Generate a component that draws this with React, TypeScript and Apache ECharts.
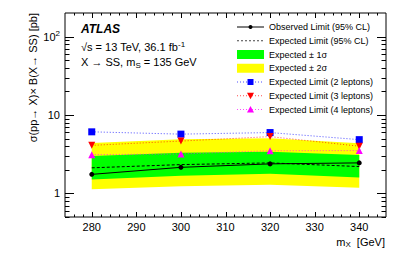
import React, { useEffect, useRef } from "react";
import * as echarts from "echarts";

const massPoints = [280, 300, 320, 340];
const observedLimit = [1.75, 2.15, 2.38, 2.45];
const expectedLimit = [2.12, 2.33, 2.45, 2.2];
const expected1SigmaUp = [3.0, 3.3, 3.4, 3.1];
const expected1SigmaDown = [1.5, 1.68, 1.78, 1.6];
const expected2SigmaUp = [4.4, 4.9, 5.05, 4.35];
const expected2SigmaDown = [1.13, 1.23, 1.29, 1.18];
const limit2Leptons = [6.1, 5.7, 5.97, 4.85];
const limit3Leptons = [4.1, 4.65, 5.3, 4.0];
const limit4Leptons = [3.12, 3.18, 3.5, 3.52];

const xMajorTicks = [280, 290, 300, 310, 320, 330, 340];
const yMajorTicks = [1, 10, 100];
const legendLabels = [
  "Observed Limit (95% CL)",
  "Expected Limit (95% CL)",
  "Expected \u00b1 1\u03c3",
  "Expected \u00b1 2\u03c3",
  "Expected Limit (2 leptons)",
  "Expected Limit (3 leptons)",
  "Expected Limit (4 leptons)",
];

const FONT = '"Liberation Sans", Arial, Helvetica, sans-serif';
const GREEN = "#00ff00";
const YELLOW = "#ffff00";
const BLUE = "#0000ff";
const RED = "#ff0000";
const MAGENTA = "#ff00ff";

export default function App() {
  const ref = useRef<HTMLDivElement>(null);
  useEffect(() => {
    const el = ref.current!;
    const chart = echarts.init(el, null, { renderer: "svg" });
    const pts = (ys: number[]) => massPoints.map((m, i) => [m, ys[i]]);
    const band = (name: string, up: number[], down: number[], color: string) => ({
      type: "custom",
      name,
      silent: true,
      data: pts(up),
      encode: { x: 0, y: 1 },
      renderItem: (params: any, api: any) => {
        if (params.dataIndex !== 0) return null;
        const poly: number[][] = [];
        for (let i = 0; i < massPoints.length; i++) poly.push(api.coord([massPoints[i], up[i]]));
        for (let i = massPoints.length - 1; i >= 0; i--) poly.push(api.coord([massPoints[i], down[i]]));
        return { type: "polygon", shape: { points: poly }, style: { fill: color, stroke: null } };
      },
    });
    const L = 65, R = 386, T = 13, B = 217;
    const option: any = {
      animation: false,
      grid: { left: L, right: 407 - R, top: T, bottom: 260 - B, show: true, borderColor: "#000", borderWidth: 1, backgroundColor: "transparent" },
      xAxis: {
        type: "value",
        min: 274,
        max: 346,
        interval: 2,
        axisLine: { show: false },
        axisTick: { show: false },
        splitLine: { show: false },
        axisLabel: {
          color: "#000",
          fontSize: 11,
          fontFamily: FONT,
          margin: 4,
          formatter: (v: number) => (xMajorTicks.indexOf(Math.round(v)) >= 0 && Math.abs(v - Math.round(v)) < 1e-6 ? String(Math.round(v)) : ""),
        },
      },
      yAxis: {
        type: "log",
        logBase: 10,
        min: 0.5,
        max: 200,
        axisLine: { show: false },
        axisTick: { show: false },
        splitLine: { show: false },
        axisLabel: {
          color: "#000",
          fontSize: 11,
          fontFamily: FONT,
          margin: 5,
          formatter: (v: number) => {
            const e = Math.log10(v);
            const r = Math.round(e);
            if (Math.abs(e - r) > 1e-6) return "";
            if (r === 0) return "{b|1}";
            if (r === 1) return "{b|10}";
            if (r === 2) return "{b|10}{s|2}";
            return "";
          },
          rich: {
            b: { fontSize: 11, fontFamily: FONT, color: "#000", lineHeight: 14 },
            s: { fontSize: 8, fontFamily: FONT, color: "#000", lineHeight: 14, verticalAlign: "top" },
          },
        },
      },
      series: [
        band("Expected \u00b1 2\u03c3", expected2SigmaUp, expected2SigmaDown, YELLOW),
        band("Expected \u00b1 1\u03c3", expected1SigmaUp, expected1SigmaDown, GREEN),
        {
          type: "line", name: "Expected Limit (2 leptons)", data: pts(limit2Leptons),
          symbol: "rect", symbolSize: 7, itemStyle: { color: BLUE },
          lineStyle: { color: BLUE, width: 1, type: [1, 2], opacity: 0.7 },
        },
        {
          type: "line", name: "Expected Limit (3 leptons)", data: pts(limit3Leptons),
          symbol: "triangle", symbolRotate: 180, symbolSize: 7, itemStyle: { color: RED },
          lineStyle: { color: RED, width: 1, type: [1, 2], opacity: 0.7 },
        },
        {
          type: "line", name: "Expected Limit (4 leptons)", data: pts(limit4Leptons),
          symbol: "triangle", symbolSize: 7, itemStyle: { color: MAGENTA },
          lineStyle: { color: MAGENTA, width: 1, type: [1, 2], opacity: 0.7 },
        },
        {
          type: "line", name: "Expected Limit (95% CL)", data: pts(expectedLimit),
          symbol: "none", lineStyle: { color: "#000", width: 1, type: [3, 2] },
        },
        {
          type: "line", name: "Observed Limit (95% CL)", data: pts(observedLimit),
          symbol: "circle", symbolSize: 5, itemStyle: { color: "#000" },
          lineStyle: { color: "#000", width: 1 },
        },
      ],
    };
    chart.setOption(option);

    const gx = (v: number) => chart.convertToPixel({ xAxisIndex: 0 } as any, v) as unknown as number;
    const gy = (v: number) => chart.convertToPixel({ yAxisIndex: 0 } as any, v) as unknown as number;
    const ln = (x1: number, y1: number, x2: number, y2: number, stroke = "#000", extra: any = {}) => ({
      type: "line", silent: true, z: 50,
      shape: { x1, y1, x2, y2 },
      style: { stroke, lineWidth: 1, ...extra },
    });
    const g: any[] = [];
    // x ticks
    for (let v = 276; v <= 344; v += 2) {
      const major = v % 10 === 0;
      const len = major ? 5 : 2.5;
      const x = Math.round(gx(v)) + 0.5;
      g.push(ln(x, B, x, B - len));
      g.push(ln(x, T, x, T + len));
    }
    // y ticks
    const yTicks: number[] = [];
    for (const d of [0.1, 1, 10, 100]) for (let k = 1; k <= 9; k++) {
      const v = d * k;
      if (v >= 0.5 - 1e-9 && v < 200 - 1e-9) yTicks.push(v);
    }
    for (const v of yTicks) {
      const major = yMajorTicks.some((m) => Math.abs(m - v) < 1e-9);
      const len = major ? 9 : 4.5;
      const y = Math.round(gy(v)) + 0.5;
      g.push(ln(L, y, L + len, y));
      g.push(ln(R, y, R - len, y));
    }
    // texts
    const txt = (x: number, y: number, text: string, extra: any = {}, el: any = {}) => ({
      type: "text", x, y, z: 60, silent: true, ...el,
      style: { text, fill: "#000", fontSize: 11, fontFamily: FONT, align: "left", verticalAlign: "middle", ...extra },
    });
    g.push(txt(81, 29, "ATLAS", { fontSize: 12, fontWeight: "bold", fontStyle: "italic" }));
    g.push(txt(81, 47, "{a|\u221as = 13 TeV, 36.1 fb}{p|-1}", {
      rich: {
        a: { fontSize: 11, fontFamily: FONT, fill: "#000", lineHeight: 14 },
        p: { fontSize: 8, fontFamily: FONT, fill: "#000", lineHeight: 14, verticalAlign: "top" },
      },
    }));
    g.push(txt(81, 62, "{a|X \u2192 SS, m}{s|S}{a| = 135 GeV}", {
      rich: {
        a: { fontSize: 11, fontFamily: FONT, fill: "#000", lineHeight: 14 },
        s: { fontSize: 8, fontFamily: FONT, fill: "#000", lineHeight: 14, verticalAlign: "bottom" },
      },
    }));
    g.push(txt(33, T, "\u03c3(pp\u2192 X)\u00d7 B(X\u2192 SS) [pb]", { align: "right" }, { rotation: Math.PI / 2 }));
    g.push(txt(385, 241.5, "{a|m}{s|X}{a|  [GeV]}", {
      align: "right",
      rich: {
        a: { fontSize: 11, fontFamily: FONT, fill: "#000", lineHeight: 14 },
        s: { fontSize: 8, fontFamily: FONT, fill: "#000", lineHeight: 14, verticalAlign: "bottom" },
      },
    }));
    // legend
    const lx1 = 237, lx2 = 264, lc = (lx1 + lx2) / 2, tx = 269;
    const rowY = (k: number) => 27 + k * 13.75;
    legendLabels.forEach((label, k) => {
      const y = rowY(k);
      g.push(txt(tx, y, label, { fontSize: 9 }));
    });
    let y = rowY(0);
    g.push(ln(lx1, y, lx2, y, "#000"));
    g.push({ type: "circle", z: 61, silent: true, shape: { cx: lc, cy: y, r: 2 }, style: { fill: "#000" } });
    y = rowY(1);
    g.push(ln(lx1, y, lx2, y, "#444", { lineDash: [2, 2] }));
    y = rowY(2);
    g.push({ type: "rect", z: 61, silent: true, shape: { x: lx1, y: y - 4.5, width: lx2 - lx1, height: 9 }, style: { fill: GREEN } });
    y = rowY(3);
    g.push({ type: "rect", z: 61, silent: true, shape: { x: lx1, y: y - 4.5, width: lx2 - lx1, height: 9 }, style: { fill: YELLOW } });
    y = rowY(4);
    g.push(ln(lx1, y, lx2, y, BLUE, { lineDash: [1, 2], opacity: 0.7 }));
    g.push({ type: "rect", z: 61, silent: true, shape: { x: lc - 3, y: y - 3, width: 6, height: 6 }, style: { fill: BLUE } });
    y = rowY(5);
    g.push(ln(lx1, y, lx2, y, RED, { lineDash: [1, 2], opacity: 0.7 }));
    g.push({ type: "polygon", z: 61, silent: true, shape: { points: [[lc - 3.5, y - 3], [lc + 3.5, y - 3], [lc, y + 3.5]] }, style: { fill: RED } });
    y = rowY(6);
    g.push(ln(lx1, y, lx2, y, MAGENTA, { lineDash: [1, 2], opacity: 0.7 }));
    g.push({ type: "polygon", z: 61, silent: true, shape: { points: [[lc - 3.5, y + 3], [lc + 3.5, y + 3], [lc, y - 3.5]] }, style: { fill: MAGENTA } });

    chart.setOption({ graphic: g });
    return () => chart.dispose();
  }, []);
  return <div ref={ref} style={{ position: "absolute", left: 0, top: 0, width: 407, height: 260, background: "#fff" }} />;
}
